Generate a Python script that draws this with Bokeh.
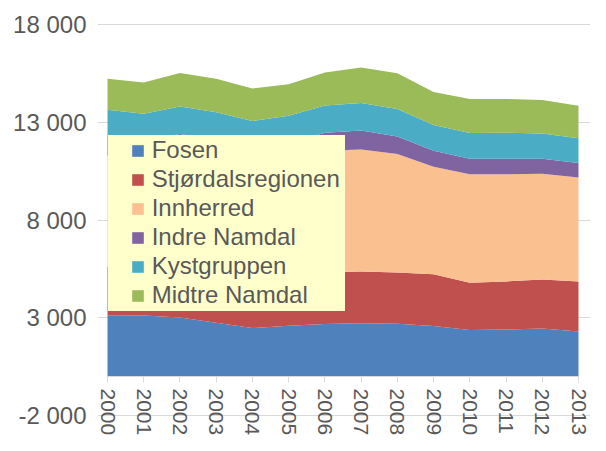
import math
from bokeh.plotting import figure
from bokeh.models import ColumnDataSource, Range1d, FixedTicker, Legend, LegendItem
from bokeh.embed import file_html
from bokeh.resources import INLINE

# ---- data ----
years = list(range(2000, 2014))
fosen = [3130, 3120, 3020, 2750, 2480, 2600, 2680, 2720, 2700, 2580, 2380, 2400, 2450, 2300]
stjordal = [2470, 2450, 2500, 2500, 2550, 2600, 2650, 2650, 2620, 2650, 2410, 2460, 2510, 2560]
innherred = [5700, 5490, 5880, 5880, 5670, 5780, 6220, 6240, 6060, 5500, 5550, 5480, 5410, 5310]
indre_namdal = [990, 980, 1000, 980, 960, 960, 920, 970, 890, 820, 800, 800, 770, 750]
kystgruppen = [1350, 1400, 1410, 1400, 1400, 1400, 1390, 1410, 1410, 1310, 1310, 1320, 1290, 1260]
midtre_namdal = [1580, 1590, 1710, 1710, 1670, 1610, 1680, 1810, 1830, 1690, 1740, 1730, 1710, 1660]

series_names = ["Fosen", "Stjørdalsregionen", "Innherred", "Indre Namdal",
                "Kystgruppen", "Midtre Namdal"]
series_keys = ["fosen", "stjordal", "innherred", "indre_namdal", "kystgruppen", "midtre_namdal"]
colors = ["#4F81BD", "#C0504D", "#FAC090", "#8064A2", "#4BACC6", "#9BBB59"]

y_ticks = [-2000, 3000, 8000, 13000, 18000]
y_tick_labels = ["-2 000", "3 000", "8 000", "13 000", "18 000"]

# ---- layout (canvas pixels) ----
W, H = 590, 435
FRAME_L, FRAME_R, FRAME_T, FRAME_B = 97, 590, 22, 435
X0_PX, X1_PX = 107, 578          # pixel of first / last year
Y0_PX, YTOP_PX = 376, 24         # pixel of 0 and of top tick
PX_PER_YEAR = (X1_PX - X0_PX) / (years[-1] - years[0])
PX_PER_UNIT = (Y0_PX - YTOP_PX) / y_ticks[-1]

x_range = Range1d(years[0] - (X0_PX - FRAME_L) / PX_PER_YEAR,
                  years[-1] + (FRAME_R - X1_PX) / PX_PER_YEAR)
y_range = Range1d(-(FRAME_B - Y0_PX) / PX_PER_UNIT,
                  y_ticks[-1] + (YTOP_PX - FRAME_T) / PX_PER_UNIT)

source = ColumnDataSource(dict(
    year=years, fosen=fosen, stjordal=stjordal, innherred=innherred,
    indre_namdal=indre_namdal, kystgruppen=kystgruppen, midtre_namdal=midtre_namdal,
))

p = figure(width=W, height=H, output_backend="svg", toolbar_location=None,
           x_range=x_range, y_range=y_range,
           min_border_left=FRAME_L, min_border_right=W - FRAME_R,
           min_border_top=FRAME_T, min_border_bottom=H - FRAME_B)
p.outline_line_color = None
p.background_fill_color = "white"
p.border_fill_color = "white"

p.varea_stack(stackers=series_keys, x="year", color=colors, source=source)

# ---- legend ----
nan_src = ColumnDataSource(dict(x=[float("nan")], y=[float("nan")]))
blank = p.scatter("x", "y", source=nan_src, marker="square", size=1,
                  fill_alpha=0, line_alpha=0)

# yellow legend panel
box_l, box_r, box_t, box_b = 107.5, 345, 134.5, 310.5
legend_bg = Legend(items=[LegendItem(label=" ", renderers=[blank])],
                   location=(box_l - FRAME_L, FRAME_B - box_b), orientation="vertical",
                   padding=0, spacing=0, margin=0,
                   glyph_width=1, glyph_height=int(box_b - box_t), label_standoff=0,
                   label_width=int(box_r - box_l - 1),
                   label_text_font_size="1px",
                   background_fill_color="#FFFFCC", background_fill_alpha=1.0,
                   border_line_color=None)
p.add_layout(legend_bg)

items = []
for name, c in zip(series_names, colors):
    r = p.scatter("x", "y", source=nan_src, marker="square", size=12,
                  fill_color=c, line_color=None)
    items.append(LegendItem(label=name, renderers=[r]))

ROW = 29
sw_cx = 137.2
legend = Legend(items=items,
                location=(sw_cx - ROW / 2 - FRAME_L, FRAME_B - (box_t + 1 + 6 * ROW)),
                orientation="vertical",
                padding=0, spacing=0, margin=0,
                glyph_width=ROW, glyph_height=ROW, label_standoff=0,
                label_text_font="Liberation Sans", label_text_font_size="24px",
                label_text_color="#595959",
                background_fill_alpha=0.0, border_line_color=None)
p.add_layout(legend)

# ---- x axis at y = 0 ----
xa = p.xaxis[0]
xa.fixed_location = 0
xa.ticker = FixedTicker(ticks=years)
xa.bounds = (years[0], years[-1])
xa.major_label_orientation = -math.pi / 2
xa.major_label_standoff = 6
xa.major_tick_out = 6
xa.major_tick_in = 0
xa.minor_tick_line_color = None
xa.axis_line_color = "#d9d9d9"
xa.major_tick_line_color = "#d9d9d9"
xa.major_label_text_font = "Liberation Sans"
xa.major_label_text_font_size = "21px"
xa.major_label_text_color = "#595959"

# ---- y axis ----
ya = p.yaxis[0]
ya.ticker = FixedTicker(ticks=y_ticks)
ya.major_label_overrides = dict(zip(y_ticks, y_tick_labels))
ya.axis_line_color = None
ya.major_tick_line_color = None
ya.minor_tick_line_color = None
ya.major_tick_out = 0
ya.major_tick_in = 0
ya.major_label_standoff = 11
ya.major_label_text_font = "Liberation Sans"
ya.major_label_text_font_size = "24px"
ya.major_label_text_color = "#595959"

p.xgrid.visible = False
p.ygrid.grid_line_color = "#d9d9d9"
p.ygrid.grid_line_width = 1

open("out.html", "w").write(file_html(p, INLINE))
